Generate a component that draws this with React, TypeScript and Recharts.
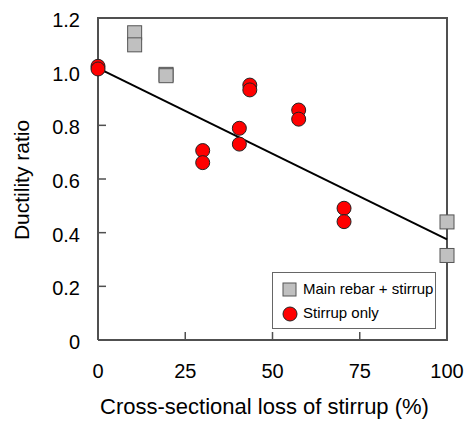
import { ScatterChart, Scatter, XAxis, YAxis } from 'recharts';

const mainLoss = [10.5, 10.5, 19.5, 19.5, 100, 100];
const mainRatio = [1.145, 1.1, 0.99, 0.985, 0.44, 0.315];

const stirrupLoss = [0, 0, 43.5, 43.5, 57.5, 57.5, 40.5, 40.5, 30, 30, 70.5, 70.5];
const stirrupRatio = [1.02, 1.01, 0.95, 0.932, 0.857, 0.823, 0.789, 0.73, 0.706, 0.661, 0.491, 0.441];

const trendLoss = [0, 100];
const trendRatio = [1.013, 0.375];

const xTicks = [0, 25, 50, 75, 100];
const yTicks = [0, 0.2, 0.4, 0.6, 0.8, 1.0, 1.2];

// plot box corners and the inner tick marks
const frameX = [0, 0, 100, 100, 0];
const frameY = [0, 1.2, 1.2, 0, 0];
const innerXTicks = [25, 50, 75];
const innerYTicks = [0.2, 0.4, 0.6, 0.8, 1.0];

const FONT = 'Arial, "Liberation Sans", sans-serif';
const INK = '#505050';

const mainData = mainLoss.map((x, i) => ({ x, y: mainRatio[i] }));
const stirrupData = stirrupLoss.map((x, i) => ({ x, y: stirrupRatio[i] }));
const trendData = trendLoss.map((x, i) => ({ x, y: trendRatio[i] }));
const frameData = frameX.map((x, i) => ({ x, y: frameY[i] }));
const xMarkData = innerXTicks.map((x) => ({ x, y: 0 }));
const yMarkData = innerYTicks.map((y) => ({ x: 0, y }));

const SquareDot = (props: any) => {
  const { cx, cy } = props;
  return <rect x={cx - 7} y={cy - 7} width={14} height={14} fill="#C0C0C0" stroke="#555" strokeWidth={1} />;
};

const CircleDot = (props: any) => {
  const { cx, cy } = props;
  return <circle cx={cx} cy={cy} r={7} fill="#FF0000" stroke="#222" strokeWidth={1} />;
};

const XMark = (props: any) => <rect x={props.cx - 0.75} y={props.cy - 8} width={1.5} height={8} fill={INK} />;
const YMark = (props: any) => <rect x={props.cx} y={props.cy - 0.75} width={8} height={1.5} fill={INK} />;
const NoDot = () => <g />;

// default tickSize 6 + tickMargin 2 -> label anchor sits 8px off the axis line
const XTick = (props: any) => {
  const { x, y, payload } = props;
  const axisY = y - 8;
  return (
    <text x={x} y={axisY + 24} dy="0.71em" textAnchor="middle" fill="#000" fontSize={20} fontFamily={FONT}>
      {payload.value}
    </text>
  );
};

const YTick = (props: any) => {
  const { x, y, payload } = props;
  const axisX = x + 8;
  const v = payload.value;
  return (
    <text x={axisX - 18} y={y + 2} dy="0.355em" textAnchor="end" fill="#000" fontSize={20} fontFamily={FONT}>
      {v === 0 ? '0' : v.toFixed(1)}
    </text>
  );
};

const XTitle = (props: any) => {
  const { viewBox } = props;
  const cx = viewBox.x + viewBox.width / 2 - 8;
  return (
    <text x={cx} y={414} textAnchor="middle" fill="#000" fontSize={22} fontFamily={FONT}>
      Cross-sectional loss of stirrup (%)
    </text>
  );
};

const YTitle = (props: any) => {
  const { viewBox } = props;
  const cy = viewBox.y + viewBox.height / 2 + 1;
  return (
    <text x={29} y={cy} transform={`rotate(-90, 29, ${cy})`} textAnchor="middle" fill="#000" fontSize={21} fontFamily={FONT}>
      Ductility ratio
    </text>
  );
};

function LegendBox() {
  return (
    <div
      style={{
        position: 'absolute',
        left: 272,
        top: 272,
        width: 164,
        height: 57,
        border: '1px solid #666',
        background: '#fff',
        boxSizing: 'border-box',
        fontFamily: FONT,
        fontSize: 15,
        color: '#000',
      }}
    >
      <svg width={16} height={16} style={{ position: 'absolute', left: 9, top: 9 }}>
        <rect x={1} y={1} width={13} height={13} fill="#C0C0C0" stroke="#555" strokeWidth={1} />
      </svg>
      <span style={{ position: 'absolute', left: 30, top: 7, whiteSpace: 'nowrap' }}>Main rebar + stirrup</span>
      <svg width={16} height={16} style={{ position: 'absolute', left: 9, top: 33 }}>
        <circle cx={8} cy={8} r={7} fill="#FF0000" stroke="#222" strokeWidth={1} />
      </svg>
      <span style={{ position: 'absolute', left: 30, top: 31, whiteSpace: 'nowrap' }}>Stirrup only</span>
    </div>
  );
}

export default function App() {
  return (
    <div style={{ position: 'absolute', left: 0, top: 0, width: 466, height: 421 }}>
      <ScatterChart width={466} height={421} margin={{ top: 18, right: 19, bottom: 0, left: 0 }}>
        <XAxis
          type="number"
          dataKey="x"
          domain={[0, 100]}
          ticks={xTicks}
          interval={0}
          height={81}
          stroke={INK}
          strokeWidth={2}
          tickLine={false}
          tick={<XTick />}
          label={<XTitle />}
        />
        <YAxis
          type="number"
          dataKey="y"
          domain={[0, 1.2]}
          ticks={yTicks}
          interval={0}
          width={98}
          stroke={INK}
          strokeWidth={2}
          tickLine={false}
          tick={<YTick />}
          label={<YTitle />}
        />
        <Scatter
          name="frame"
          data={frameData}
          line={{ stroke: INK, strokeWidth: 2 }}
          shape={NoDot}
          legendType="none"
          isAnimationActive={false}
        />
        <Scatter name="xmarks" data={xMarkData} shape={XMark} legendType="none" isAnimationActive={false} />
        <Scatter name="ymarks" data={yMarkData} shape={YMark} legendType="none" isAnimationActive={false} />
        <Scatter
          name="trend"
          data={trendData}
          line={{ stroke: '#000', strokeWidth: 2 }}
          shape={NoDot}
          legendType="none"
          isAnimationActive={false}
        />
        <Scatter name="Main rebar + stirrup" data={mainData} shape={SquareDot} isAnimationActive={false} />
        <Scatter name="Stirrup only" data={stirrupData} shape={CircleDot} isAnimationActive={false} />
      </ScatterChart>
      <LegendBox />
    </div>
  );
}
